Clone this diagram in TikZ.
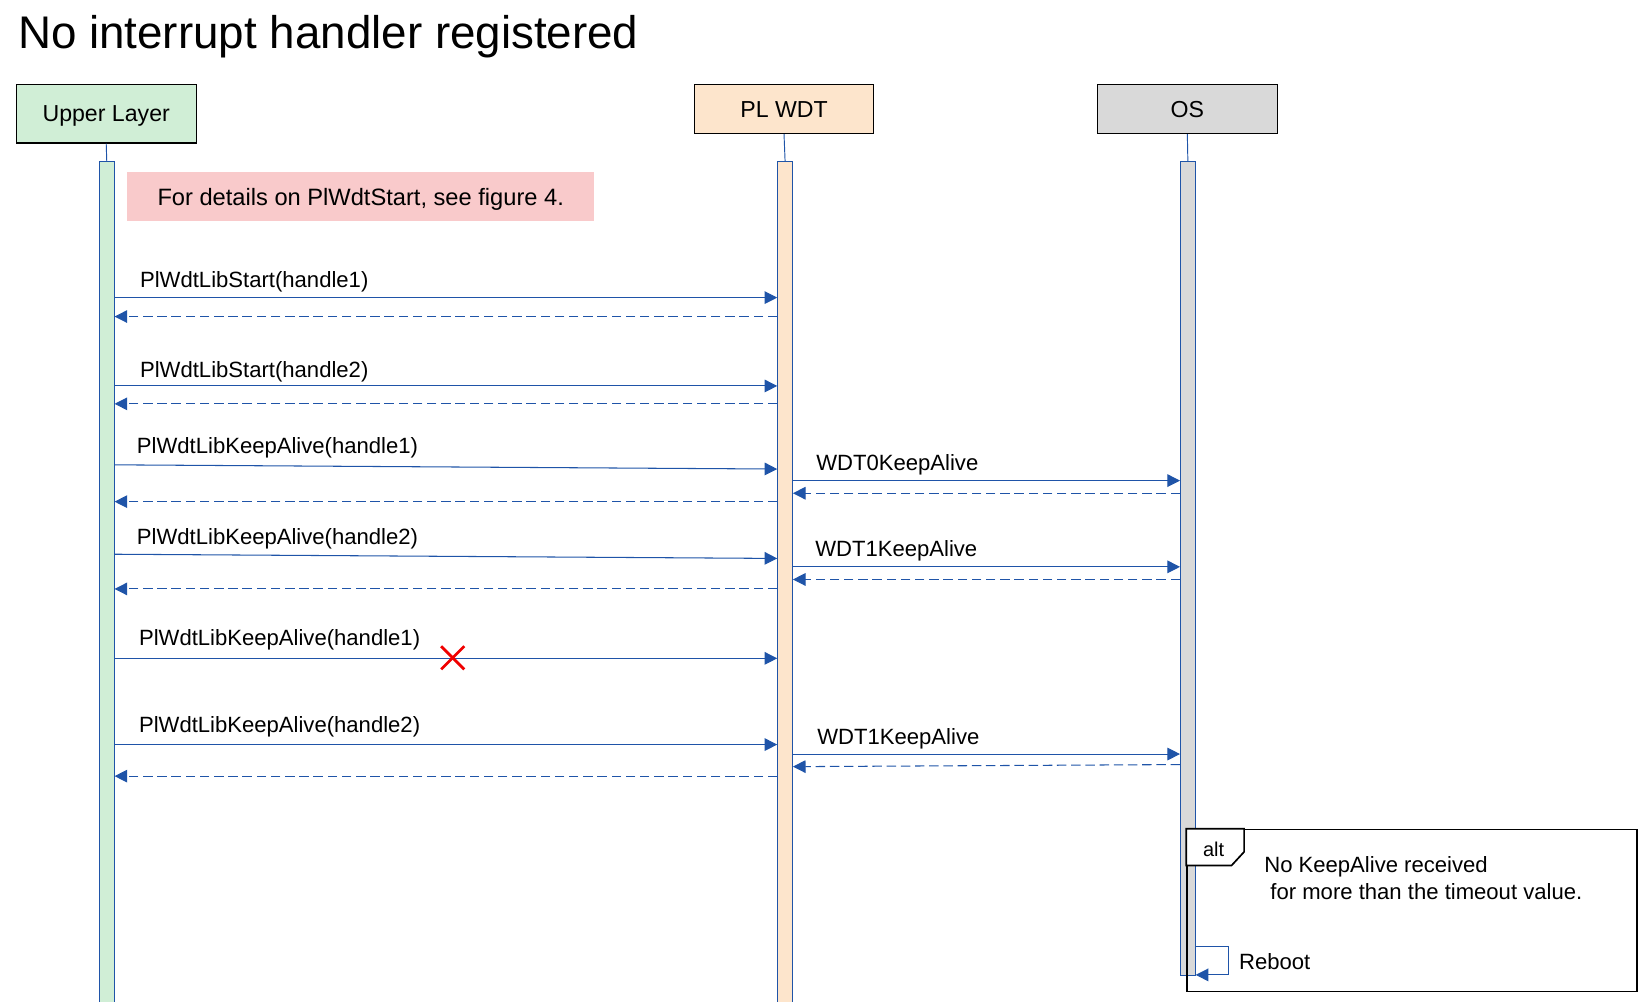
\documentclass[tikz,border=0pt]{standalone}
\usepackage{fontspec}
\setmainfont{Liberation Sans}
\usetikzlibrary{arrows.meta}
\definecolor{lineblue}{RGB}{31,84,168}
\definecolor{ulfill}{RGB}{208,238,214}
\definecolor{plfill}{RGB}{253,229,204}
\definecolor{osfill}{RGB}{217,217,217}
\definecolor{notefill}{RGB}{249,202,203}
\definecolor{xred}{RGB}{240,0,0}
\tikzset{
  lbl/.style={font=\fontsize{21}{25}\selectfont, inner sep=0pt, anchor=base west},
  headbox/.style={draw=black, line width=1pt, minimum width=171, inner sep=0pt, font=\fontsize{22}{26}\selectfont},
  actbar/.style={draw=lineblue, line width=0.9pt, minimum width=14, inner sep=0pt, anchor=north},
  lifeline/.style={draw=lineblue, line width=0.9pt},
  msg/.style={draw=lineblue, line width=1pt, -{Triangle[length=12pt,width=12pt]}},
  retmsg/.style={msg, dash pattern=on 9pt off 4.5pt},
  crossmark/.style={draw=xred, line width=2.6pt},
  altframe/.style={draw=black, line width=1.6pt, minimum width=428, minimum height=154, inner sep=0pt, anchor=north west},
}
\begin{document}
\begin{tikzpicture}[x=1pt, y=-1pt]
\useasboundingbox (0,0) rectangle (1568,952);
% title
\node[anchor=base west, inner sep=0pt, font=\fontsize{43.5}{50}\selectfont] (title) at (17,46) {No interrupt handler registered};
% heads
\node[headbox, fill=ulfill, minimum height=56] (ul) at (101,108) {};
\node[font=\fontsize{22}{26}\selectfont, inner sep=0pt, anchor=base] (ultext) at (101,116) {Upper Layer};
\node[headbox, fill=plfill, minimum height=47] (pl) at (745.5,103.5) {};
\node[font=\fontsize{22}{26}\selectfont, inner sep=0pt, anchor=base] (pltext) at (745.5,111.5) {PL WDT};
\node[headbox, fill=osfill, minimum height=47] (os) at (1129,103.5) {};
\node[font=\fontsize{22}{26}\selectfont, inner sep=0pt, anchor=base] (ostext) at (1129,111.5) {OS};
% activation bars
\node[actbar, fill=ulfill, minimum height=820] (ulbar) at (101.5,153) {};
\node[actbar, fill=plfill, minimum height=820] (plbar) at (746.5,153) {};
\node[actbar, fill=osfill, minimum height=774] (osbar) at (1129.5,153) {};
\draw[lifeline] (ul.south) -- (ulbar.north);
\draw[lifeline] (pl.south) -- (plbar.north);
\draw[lifeline] (os.south) -- (osbar.north);
% note
\node[fill=notefill, minimum width=444, minimum height=47, inner sep=0pt] (note) at (343,187) {};
\node[font=\fontsize{22.5}{27}\selectfont, inner sep=0pt, anchor=base] (notetext) at (343,195) {For details on PlWdtStart, see figure 4.};
% messages
\node[lbl] (m1) at (133,273.5) {PlWdtLibStart(handle1)};
\draw[msg] (ulbar.east |- 0,283) -- (plbar.west |- 0,283);
\draw[retmsg] (plbar.west |- 0,301) -- (ulbar.east |- 0,301);
\node[lbl] (m2) at (133,358.5) {PlWdtLibStart(handle2)};
\draw[msg] (ulbar.east |- 0,367) -- (plbar.west |- 0,367);
\draw[retmsg] (plbar.west |- 0,384) -- (ulbar.east |- 0,384);
\node[lbl] (m3) at (130,431.5) {PlWdtLibKeepAlive(handle1)};
\draw[msg] (ulbar.east |- 0,442) -- (plbar.west |- 0,446);
\node[lbl] (m4) at (776,447.5) {WDT0KeepAlive};
\draw[msg] (plbar.east |- 0,457) -- (osbar.west |- 0,457);
\draw[retmsg] (osbar.west |- 0,469) -- (plbar.east |- 0,469);
\draw[retmsg] (plbar.west |- 0,477) -- (ulbar.east |- 0,477);
\node[lbl] (m5) at (130,517.5) {PlWdtLibKeepAlive(handle2)};
\draw[msg] (ulbar.east |- 0,527) -- (plbar.west |- 0,531);
\node[lbl] (m6) at (775,529.5) {WDT1KeepAlive};
\draw[msg] (plbar.east |- 0,539) -- (osbar.west |- 0,539);
\draw[retmsg] (osbar.west |- 0,551) -- (plbar.east |- 0,551);
\draw[retmsg] (plbar.west |- 0,560) -- (ulbar.east |- 0,560);
\node[lbl] (m7) at (132,613.5) {PlWdtLibKeepAlive(handle1)};
\draw[msg] (ulbar.east |- 0,626) -- (plbar.west |- 0,626);
\coordinate (xc) at (430.5,625.5);
\draw[crossmark] ([shift={(-11,-11)}]xc) -- ([shift={(11,11)}]xc);
\draw[crossmark] ([shift={(-11,11)}]xc) -- ([shift={(11,-11)}]xc);
\node[lbl] (m8) at (132,696.5) {PlWdtLibKeepAlive(handle2)};
\draw[msg] (ulbar.east |- 0,708) -- (plbar.west |- 0,708);
\node[lbl] (m9) at (777,707.5) {WDT1KeepAlive};
\draw[msg] (plbar.east |- 0,717) -- (osbar.west |- 0,717);
\draw[retmsg] (osbar.west |- 0,727) -- (plbar.east |- 0,729);
\draw[retmsg] (plbar.west |- 0,738) -- (ulbar.east |- 0,738);
% alt fragment
\node[altframe] (alt) at (1128,788) {};
\draw[draw=black, line width=1.6pt, fill=white] (alt.north west) -- ++(55,0) -- ++(0,22) -- ++(-12,13) -- (alt.north west |- 0,823) -- cycle;
\node[font=\fontsize{19}{23}\selectfont, inner sep=0pt] (alttag) at (1154,808) {alt};
\node[lbl] (c1) at (1202,829.5) {No KeepAlive received};
\node[lbl] (c2) at (1202,855.5) {\ for more than the timeout value.};
% reboot self message
\draw[msg] (osbar.east |- 0,900) -- ++(31,0) |- (osbar.east |- 0,927);
\node[lbl] (rb) at (1178,921.5) {Reboot};
\end{tikzpicture}
\end{document}
